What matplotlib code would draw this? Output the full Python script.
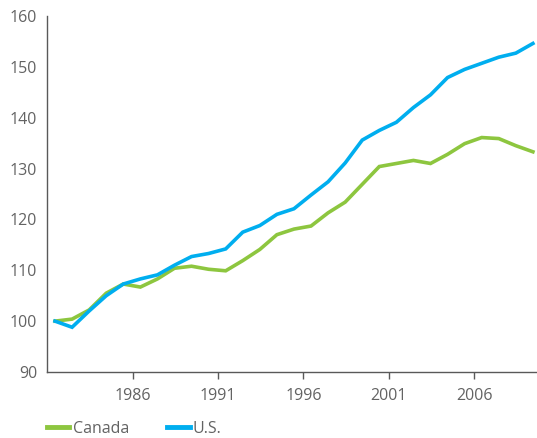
import matplotlib
matplotlib.use('Agg')
import matplotlib.pyplot as plt
import numpy as np

# index values, 1981 = 100
years = list(range(1981, 2010))
canada = [100.0, 100.4, 102.2, 105.5, 107.3, 106.7, 108.3, 110.4, 110.8, 110.2,
          109.9, 111.9, 114.1, 117.0, 118.1, 118.7, 121.3, 123.4, 126.9, 130.4,
          131.0, 131.6, 131.0, 132.8, 134.9, 136.1, 135.9, 134.5, 133.3]
us = [100.0, 98.8, 102.0, 105.0, 107.3, 108.3, 109.1, 111.0, 112.7, 113.3,
      114.2, 117.5, 118.8, 121.0, 122.1, 124.8, 127.4, 131.1, 135.6, 137.5,
      139.1, 142.0, 144.5, 147.9, 149.5, 150.7, 151.9, 152.7, 154.6]
tick_labels = ['1986', '1991', '1996', '2001', '2006']
y_ticks = [90, 100, 110, 120, 130, 140, 150, 160]

green = '#8dc63f'
blue = '#00aeef'
grey = '#595959'
txt = '#636363'

plt.rcParams['font.family'] = ['Open Sans', 'DejaVu Sans']

fig = plt.figure(figsize=(5.37, 4.38), dpi=100)
ax = fig.add_axes([47/537, 66/438, 1 - 47/537, (372 - 16)/438])

x = np.arange(len(years))
ax.plot(x, canada, color=green, lw=2.6, label='Canada', solid_joinstyle='miter')
ax.plot(x, us, color=blue, lw=2.6, label='U.S.', solid_joinstyle='miter')

ax.set_ylim(90, 160)
ax.set_xlim(-0.47, 28.24)
ax.set_yticks(y_ticks)

# ticks fall between the categories
tick_pos = [years.index(int(t)) - 0.45 for t in tick_labels]
ax.set_xticks(tick_pos)
ax.set_xticklabels(tick_labels)

for s in ['top', 'right']:
    ax.spines[s].set_visible(False)
for s in ['left', 'bottom']:
    ax.spines[s].set_color(grey)
    ax.spines[s].set_linewidth(1.0)

ax.tick_params(axis='y', length=0, pad=7, labelsize=11.5, labelcolor=txt)
ax.tick_params(axis='x', length=5, width=1, color=grey, pad=6.5,
               labelsize=11.5, labelcolor=txt)

leg = fig.legend(loc='center left', bbox_to_anchor=(47/537, 1 - 429/438), ncol=2,
                 frameon=False, fontsize=11.5, handlelength=1.4,
                 handletextpad=0.2, columnspacing=2.4,
                 borderpad=0, borderaxespad=0)
for t in leg.get_texts():
    t.set_color(txt)
for l in leg.get_lines():
    l.set_linewidth(3.5)

fig.savefig('out.png', dpi=100)
